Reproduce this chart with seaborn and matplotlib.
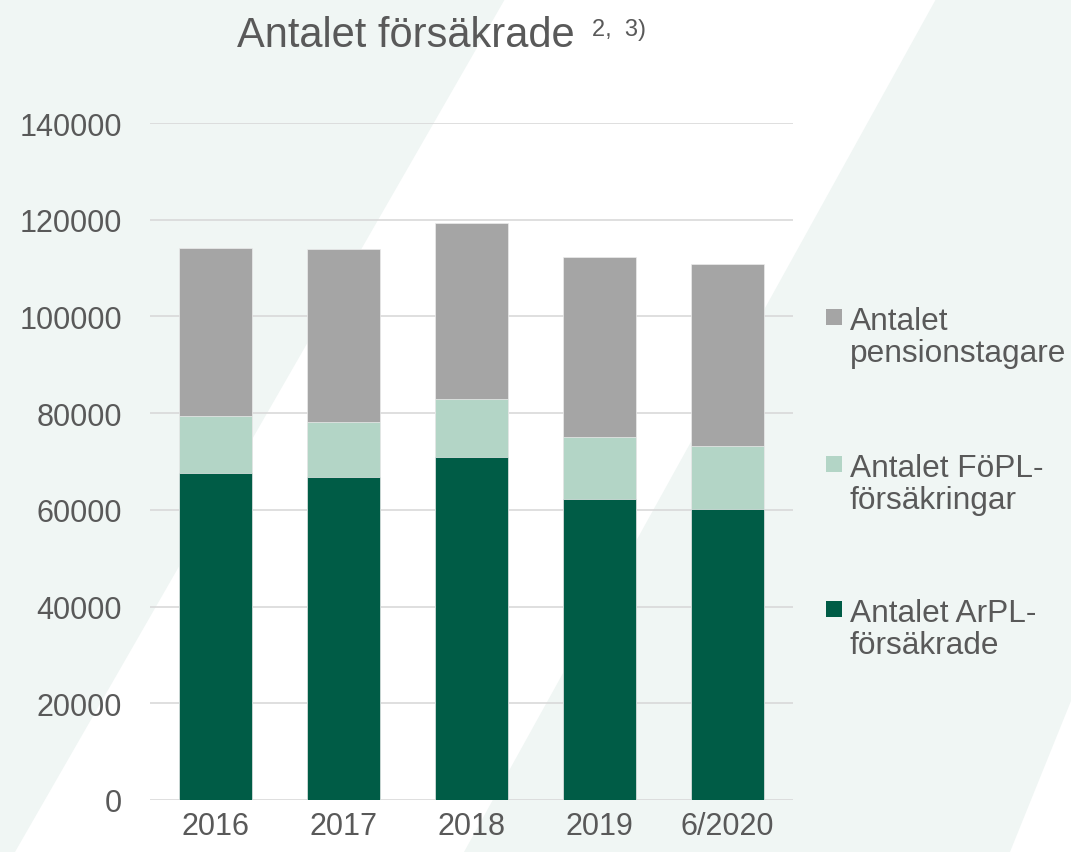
import numpy as np
import pandas as pd
import seaborn as sns
import matplotlib.pyplot as plt
from matplotlib.patches import Polygon, Rectangle

# data
years = ['2016', '2017', '2018', '2019', '6/2020']
arpl = [67600, 66700, 70900, 62200, 60200]
fopl = [11800, 11500, 12100, 12900, 13100]
pension = [34800, 35700, 36300, 37100, 37600]

series_names = ['Antalet ArPL-\nförsäkrade', 'Antalet FöPL-\nförsäkringar', 'Antalet\npensionstagare']
colors = ['#005c46', '#b3d5c6', '#a5a5a5']
text_col = '#595959'

df = pd.DataFrame({'year': years, 'arpl': arpl, 'fopl': fopl, 'pension': pension})
df['c1'] = df['arpl']
df['c2'] = df['c1'] + df['fopl']
df['c3'] = df['c2'] + df['pension']

sns.set_theme(style="white")
plt.rcParams['font.family'] = ['Liberation Sans', 'DejaVu Sans']

fig = plt.figure(figsize=(10.71, 8.53), dpi=100)
fig.patch.set_facecolor('white')

# light diagonal background bands
band = '#f0f6f4'
fig.patches.append(Polygon([(0, 1), (505/1071, 1), (15/1071, 0), (0, 0)], closed=True,
                           transform=fig.transFigure, facecolor=band, edgecolor='none', zorder=-10))
fig.patches.append(Polygon([(936/1071, 1), (1, 1), (1, 1-702/853), (1010/1071, 0), (464/1071, 0)],
                           closed=True, transform=fig.transFigure, facecolor=band,
                           edgecolor='none', zorder=-10))

ax = fig.add_axes([150/1071, 52/853, 643/1071, 677/853])
ax.set_facecolor('none')

# stacked bars: draw cumulative totals from top down
for col, c in zip(['c3', 'c2', 'c1'], colors[::-1]):
    sns.barplot(data=df, x='year', y=col, color=c, width=0.57, saturation=1, ax=ax, zorder=3,
                edgecolor='#ececec', linewidth=0.5)

ax.set_ylim(0, 140000)
ax.set_xlim(-0.51, 4.51)
ax.set_yticks(np.arange(0, 140001, 20000))
ax.set_yticklabels([str(v) for v in range(0, 140001, 20000)])
ax.yaxis.grid(True, color='#d9d9d9', linewidth=1.2, zorder=0)
ax.set_axisbelow(True)
for s in ax.spines.values():
    s.set_visible(False)
ax.tick_params(axis='y', length=0, pad=20, labelsize=22, labelcolor=text_col)
ax.tick_params(axis='x', length=0, pad=8, labelsize=22, labelcolor=text_col)
ax.set_xlabel('')
ax.set_ylabel('')

# title with superscript note
fig.text(237/1071, 1 - 47/853, 'Antalet försäkrade', fontsize=30, color=text_col, ha='left', va='baseline')
fig.text(592/1071, 1 - 36/853, '2,  3)', fontsize=17, color=text_col, ha='left', va='baseline')

# legend, top entry = top of stack
leg_y = [307, 454, 599]
for name, c, y in zip(series_names[::-1], colors[::-1], leg_y):
    fig.patches.append(Rectangle((826/1071, 1 - (y + 19)/853), 16/1071, 16/853,
                                 transform=fig.transFigure, facecolor=c, edgecolor='none'))
    fig.text(850/1071, 1 - y/853, name, fontsize=22.8, color=text_col, ha='left', va='top',
             linespacing=1.1)

fig.savefig('out.png', dpi=100, facecolor=fig.get_facecolor())
